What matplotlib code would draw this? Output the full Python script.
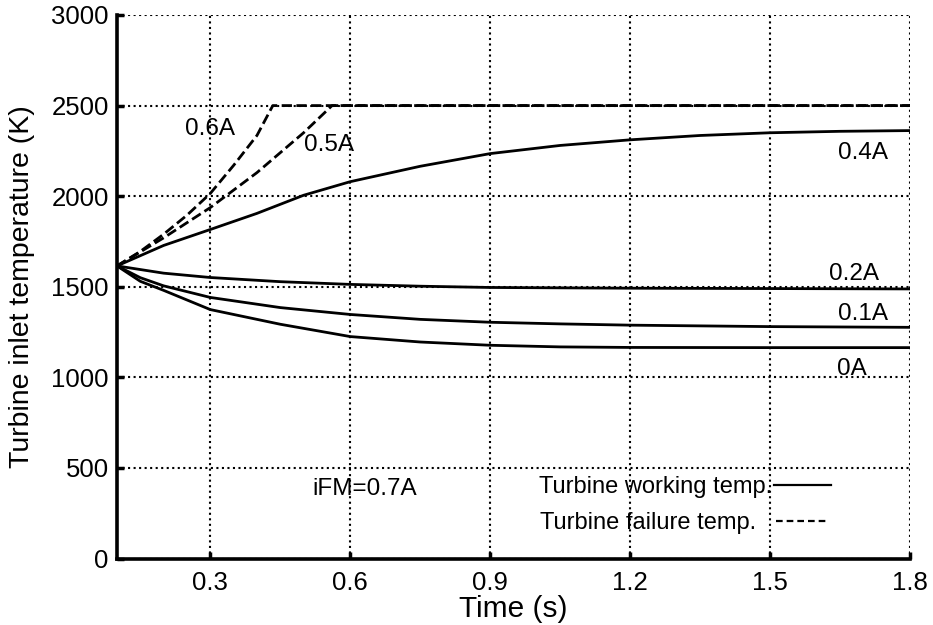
"""
Turbine inlet temperature vs time for several field currents
"""

import matplotlib
matplotlib.use("Agg")
import matplotlib.pyplot as plt
from matplotlib.lines import Line2D

plt.rcParams["font.family"] = ["Liberation Sans", "DejaVu Sans"]

# --- data ---
t_0A = [0.1, 0.15, 0.2, 0.3, 0.45, 0.6, 0.75, 0.9, 1.05, 1.2, 1.5, 1.8]
T_0A = [1615, 1530, 1480, 1374, 1293, 1225, 1195, 1177, 1168, 1165, 1164, 1164]

t_01A = [0.1, 0.15, 0.2, 0.3, 0.45, 0.6, 0.75, 0.9, 1.05, 1.2, 1.5, 1.8]
T_01A = [1615, 1550, 1505, 1441, 1385, 1347, 1320, 1304, 1295, 1288, 1280, 1276]

t_02A = [0.1, 0.2, 0.3, 0.45, 0.6, 0.75, 0.9, 1.2, 1.5, 1.8]
T_02A = [1615, 1575, 1551, 1528, 1513, 1503, 1496, 1492, 1490, 1488]

t_04A = [0.1, 0.2, 0.3, 0.4, 0.5, 0.6, 0.75, 0.9, 1.05, 1.2, 1.35, 1.5, 1.65, 1.8]
T_04A = [1615, 1728, 1816, 1905, 2005, 2080, 2165, 2235, 2280, 2311, 2335, 2350, 2358, 2362]

t_05A = [0.1, 0.2, 0.3, 0.4, 0.5, 0.561, 1.8]
T_05A = [1615, 1770, 1937, 2130, 2350, 2500, 2500]

t_06A = [0.1, 0.15, 0.2, 0.25, 0.3, 0.35, 0.4, 0.434, 1.8]
T_06A = [1615, 1695, 1790, 1895, 2015, 2170, 2335, 2500, 2500]

curve_labels = ["0A", "0.1A", "0.2A", "0.4A", "0.5A", "0.6A"]
label_pos = [(1.675, 1045), (1.70, 1350), (1.68, 1570), (1.70, 2240),
             (0.555, 2285), (0.30, 2370)]

x_ticks = [0.3, 0.6, 0.9, 1.2, 1.5, 1.8]
y_ticks = [0, 500, 1000, 1500, 2000, 2500, 3000]

fig = plt.figure(figsize=(9.33, 6.25), dpi=100)
ax = fig.add_axes([0.1254, 0.1064, 0.85, 0.8696])

lw = 2.0
for t, T in [(t_0A, T_0A), (t_01A, T_01A), (t_02A, T_02A), (t_04A, T_04A)]:
    ax.plot(t, T, "-", color="black", lw=lw)
for t, T in [(t_05A, T_05A), (t_06A, T_06A)]:
    ax.plot(t, T, "--", color="black", lw=lw)

for lab, (x, y) in zip(curve_labels, label_pos):
    ax.text(x, y, lab, fontsize=17.5, ha="center", va="center")

ax.text(0.63, 385, "iFM=0.7A", fontsize=17.5, ha="center", va="center")

# two one-entry legends so the texts stay left-aligned like the original
work = ax.legend([Line2D([], [], color="black", lw=1.6, ls="-")],
                 ["Turbine working temp."],
                 markerfirst=False, frameon=False, loc="center left",
                 bbox_to_anchor=(0.517, 0.1316), fontsize=17,
                 handlelength=2.4, handletextpad=0.1, borderpad=0)
ax.add_artist(work)
ax.legend([Line2D([], [], color="black", lw=1.6, ls=(0, (3, 1.8)))],
          ["Turbine failure temp."],
          markerfirst=False, frameon=False, loc="center left",
          bbox_to_anchor=(0.5183, 0.0653), fontsize=17,
          handlelength=2.2, handletextpad=0.85, borderpad=0)

ax.set_xlim(0.1, 1.8)
ax.set_ylim(0, 3000)
ax.set_xticks(x_ticks)
ax.set_xticklabels([f"{v:.1f}" for v in x_ticks])
ax.set_yticks(y_ticks)
ax.set_xlabel("Time (s)", fontsize=21.5, labelpad=0)
ax.set_ylabel("Turbine inlet temperature (K)", fontsize=20.5)
ax.yaxis.set_label_coords(-0.104, 0.5)
ax.tick_params(direction="in", length=5, width=2.5, labelsize=18.5)
ax.tick_params(axis="x", pad=9)
ax.tick_params(axis="y", pad=6)

ax.grid(True, color="black", linestyle=":", linewidth=1.5)
ax.spines["top"].set_visible(False)
ax.spines["right"].set_visible(False)
ax.spines["left"].set_linewidth(2.6)
ax.spines["bottom"].set_linewidth(2.6)

plt.savefig("out.png", dpi=100)
plt.close()
